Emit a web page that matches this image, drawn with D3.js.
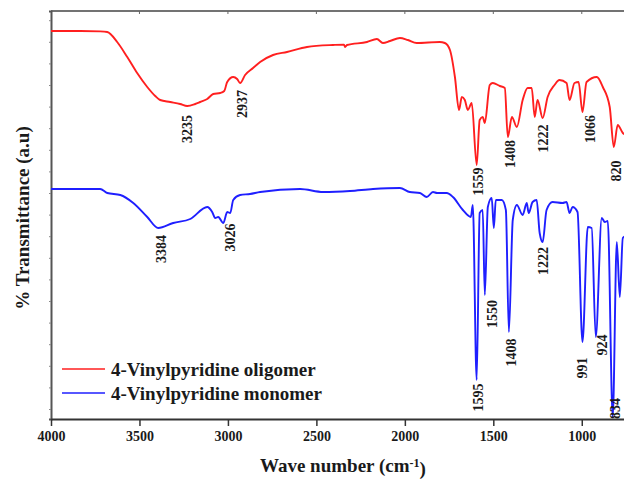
<!DOCTYPE html>
<meta charset="utf-8">
<body style="margin:0;background:#fff">
<svg width="624" height="479"></svg>
<script src="https://d3js.org/d3.v7.min.js"></script>
<script>

// FTIR spectra, wave number (cm-1) vs transmittance (a.u.)
var oligomerWave = [4000, 3834, 3722, 3682, 3626, 3569, 3513, 3456, 3411, 3383, 3326, 3270, 3230, 3185, 3157, 3117, 3083, 3043, 3021, 3004, 2970, 2948, 2931, 2903, 2858, 2818, 2745, 2666, 2553, 2406, 2344, 2338, 2327, 2214, 2158, 2124, 2084, 2028, 1983, 1933, 1803, 1774, 1745, 1717, 1694, 1678, 1661, 1644, 1622, 1594, 1577, 1560, 1548, 1520, 1503, 1463, 1435, 1418, 1395, 1367, 1334, 1306, 1283, 1266, 1250, 1221, 1193, 1154, 1126, 1086, 1069, 1041, 1018, 996, 973, 915, 881, 842, 819, 797, 768, 751];
var oligomerT = [97.0, 97.0, 96.9, 96.75, 94.25, 90.5, 86.5, 83.0, 80.75, 79.75, 79.25, 78.75, 78.25, 78.75, 79.25, 80.0, 81.25, 81.5, 82.0, 84.25, 85.5, 85.0, 84.0, 86.0, 87.75, 89.25, 91.0, 91.75, 93.0, 93.5, 93.6, 93.0, 93.5, 94.25, 95.0, 94.0, 94.5, 95.25, 94.75, 94.0, 94.25, 94.0, 92.25, 85.5, 77.25, 80.5, 79.75, 77.25, 79.0, 63.5, 74.75, 75.5, 74.0, 83.5, 84.0, 83.25, 82.75, 70.5, 75.5, 73.0, 79.75, 82.75, 82.75, 75.5, 79.75, 75.25, 80.5, 83.5, 84.75, 84.0, 79.75, 84.0, 84.25, 76.75, 84.25, 85.5, 83.0, 78.0, 68.0, 73.5, 71.5, 71.0];

var monomerWave = [4000, 3722, 3682, 3608, 3535, 3456, 3394, 3309, 3213, 3117, 3089, 3072, 3055, 3026, 3004, 2987, 2970, 2931, 2875, 2818, 2592, 2462, 2310, 2180, 2028, 1972, 1915, 1876, 1841, 1818, 1774, 1763, 1728, 1672, 1627, 1616, 1594, 1577, 1560, 1548, 1531, 1509, 1497, 1486, 1452, 1429, 1412, 1390, 1367, 1334, 1311, 1300, 1278, 1255, 1238, 1221, 1199, 1165, 1109, 1086, 1069, 1052, 1024, 996, 966, 944, 921, 887, 870, 853, 825, 802, 785, 768, 751];
var monomerT = [57.5, 57.5, 56.5, 56.0, 54.0, 50.5, 47.75, 49.0, 50.0, 53.0, 51.75, 50.25, 50.5, 49.0, 51.75, 51.5, 54.75, 56.0, 56.25, 56.75, 57.5, 56.75, 57.0, 57.5, 57.75, 56.75, 56.5, 55.5, 56.75, 56.5, 56.5, 56.5, 55.5, 52.25, 50.5, 53.5, 9.75, 51.5, 52.25, 31.0, 53.0, 55.25, 47.75, 54.75, 54.75, 52.25, 21.75, 49.75, 53.5, 51.0, 54.0, 51.5, 54.25, 54.75, 46.5, 44.25, 52.25, 54.25, 54.0, 54.25, 51.5, 53.0, 51.75, 19.25, 48.0, 47.75, 20.5, 50.25, 49.25, 49.5, 0.5, 44.25, 30.5, 45.25, 45.75];

// peak annotations: text, wave number and transmittance where the label sits
var oligomerPeaks = ["3235", "2937", "1559", "1408", "1222", "1066", "820"];
var oligomerPeakWave = [3230, 2922, 1588, 1407, 1221, 955, 805];
var oligomerPeakT = [72.5, 78.75, 59.4, 66.25, 70.1, 72.5, 62.0];

var monomerPeaks = ["3384", "3026", "1595", "1550", "1408", "1222", "991", "924", "834"];
var monomerPeakWave = [3380, 2988, 1588, 1508, 1401, 1221, 1000, 887, 810];
var monomerPeakT = [42.5, 45.4, 5.4, 26.25, 16.6, 39.5, 12.75, 18.5, 2.6];

var xTicks = [4000, 3500, 3000, 2500, 2000, 1500, 1000];
var seriesNames = ["4-Vinylpyridine oligomer", "4-Vinylpyridine monomer"];
var seriesColors = ["#ff1f1f", "#1f1fff"];

var svg = d3.select("svg"),
    margin = {top: 11, left: 51},
    width = 575,
    height = 408,
    font = "'Liberation Serif', 'Times New Roman', serif";

var x = d3.scaleLinear().domain([4000, 750]).range([margin.left, margin.left + width]);
var y = d3.scaleLinear().domain([0, 102]).range([margin.top + height, margin.top]);

var line = d3.line()
    .curve(d3.curveMonotoneX)
    .x(function(d) { return x(d[0]); })
    .y(function(d) { return y(d[1]); });

var series = [
  {wave: oligomerWave, t: oligomerT, peaks: oligomerPeaks, pw: oligomerPeakWave, pt: oligomerPeakT},
  {wave: monomerWave, t: monomerT, peaks: monomerPeaks, pw: monomerPeakWave, pt: monomerPeakT}
];

// frame: top line with small inward ticks
svg.append("line")
    .attr("x1", margin.left).attr("x2", 624)
    .attr("y1", margin.top).attr("y2", margin.top)
    .attr("stroke", "#444").attr("stroke-width", 1.5);

svg.append("g")
    .selectAll("line")
    .data(xTicks.slice(1))
    .enter().append("line")
    .attr("x1", function(d) { return x(d); }).attr("x2", function(d) { return x(d); })
    .attr("y1", margin.top).attr("y2", margin.top + 3)
    .attr("stroke", "#666");

// left axis, no labels
var yAxis = svg.append("g")
    .attr("transform", "translate(" + margin.left + ",0)")
    .call(d3.axisLeft(y).tickValues(d3.range(2.5, 102, 5.4)).tickSize(2).tickFormat(""));
yAxis.select(".domain").attr("stroke", "#555").attr("stroke-width", 2);
yAxis.selectAll(".tick line").attr("stroke", "#888");

// bottom axis
var xAxis = svg.append("g")
    .attr("transform", "translate(0," + (margin.top + height) + ")")
    .call(d3.axisBottom(x).tickValues(xTicks).tickSize(7).tickSizeOuter(0).tickPadding(5).tickFormat(d3.format("d")));
xAxis.select(".domain").attr("stroke", "#333").attr("stroke-width", 1.8);
xAxis.selectAll(".tick line").attr("stroke", "#333").attr("stroke-width", 1.5);
xAxis.selectAll("text")
    .attr("fill", "#1a1a1a")
    .style("font-family", font)
    .style("font-weight", "bold")
    .style("font-size", "14px");

// spectra
series.forEach(function(s, i) {
  svg.append("path")
      .datum(d3.zip(s.wave, s.t))
      .attr("fill", "none")
      .attr("stroke", seriesColors[i])
      .attr("stroke-width", 1.9)
      .attr("stroke-linejoin", "round")
      .attr("d", line);

  svg.append("g")
    .selectAll("text")
    .data(d3.zip(s.peaks, s.pw, s.pt))
    .enter().append("text")
      .attr("transform", function(d) { return "translate(" + x(d[1]) + "," + y(d[2]) + ") rotate(-90)"; })
      .attr("text-anchor", "middle")
      .attr("dy", "0.35em")
      .attr("fill", "#1a1a1a")
      .style("font-family", font)
      .style("font-weight", "bold")
      .style("font-size", "14px")
      .text(function(d) { return d[0]; });
});

// legend
var legend = svg.append("g")
    .attr("transform", "translate(" + (margin.left + 11) + "," + (margin.top + 358) + ")");

seriesNames.forEach(function(name, i) {
  var row = legend.append("g").attr("transform", "translate(0," + (i * 24) + ")");
  row.append("line")
      .attr("x1", 0).attr("x2", 43)
      .attr("stroke", seriesColors[i])
      .attr("stroke-width", 1.5);
  row.append("text")
      .attr("x", 49)
      .attr("dy", "0.35em")
      .attr("fill", "#1a1a1a")
      .style("font-family", font)
      .style("font-weight", "bold")
      .style("font-size", "19px")
      .text(name);
});

// axis titles
var xTitle = svg.append("text")
    .attr("x", x(2350))
    .attr("y", 472)
    .attr("text-anchor", "middle")
    .attr("fill", "#1a1a1a")
    .style("font-family", font)
    .style("font-weight", "bold")
    .style("font-size", "19px");
xTitle.append("tspan").text("Wave number (cm");
xTitle.append("tspan").attr("dy", "-0.45em").style("font-size", "12px").text("-1");
xTitle.append("tspan").attr("dy", "0.45em").text(")");

svg.append("text")
    .attr("transform", "translate(22," + (margin.top + 207) + ") rotate(-90)")
    .attr("text-anchor", "middle")
    .attr("dy", "0.35em")
    .attr("fill", "#1a1a1a")
    .style("font-family", font)
    .style("font-weight", "bold")
    .style("font-size", "19px")
    .text("% Transmittance (a.u)");

</script>
</body>
